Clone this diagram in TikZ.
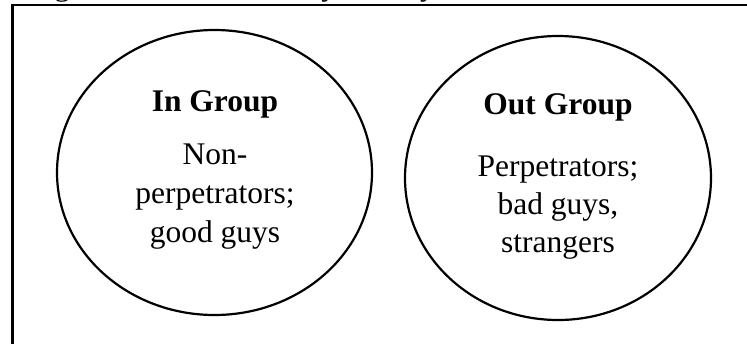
\documentclass[tikz,border=0pt]{standalone}
\usepackage{fontspec}
\setmainfont{Liberation Serif}
\usetikzlibrary{shapes.geometric}
\tikzset{
  grp/.style={draw, ellipse, line width=2.2pt, inner sep=0pt},
  head/.style={anchor=base, inner sep=0pt, font=\fontsize{31.5}{38}\selectfont\bfseries},
  body/.style={anchor=base, inner sep=0pt, font=\fontsize{31.5}{38}\selectfont},
  frame/.style={line width=2.2pt}
}
\begin{document}
\begin{tikzpicture}[x=1pt,y=-1pt]
\useasboundingbox (0,0) rectangle (747,343);
\clip (0,0) rectangle (747,343);
% cut-off caption
\node[anchor=base west, inner sep=0pt, font=\fontsize{31.5}{38}\selectfont] (cap) at (28,-4.8) {Figure 1. Social Identity Theory};
% frame
\coordinate (fbl) at (12.5,360);
\coordinate (ftl) at (12.5,5);
\coordinate (ftr) at (760,5);
\draw[frame] (fbl) -- (ftl) -- (ftr);
% circles
\node[grp, minimum width=315pt, minimum height=285pt] (ingroup) at (214.5,172.5) {};
\node[grp, minimum width=306pt, minimum height=284pt] (outgroup) at (558,178) {};
% left texts
\node[head] (inh) at (215,111) {In Group};
\node[body] (in1) at (215,164) {Non-};
\node[body] (in2) at (215,203) {perpetrators;};
\node[body] (in3) at (215,242) {good guys};
% right texts
\node[head] (outh) at (558,114) {Out Group};
\node[body] (out1) at (558,176) {Perpetrators;};
\node[body] (out2) at (558,214) {bad guys,};
\node[body] (out3) at (558,252) {strangers};
\end{tikzpicture}
\end{document}
